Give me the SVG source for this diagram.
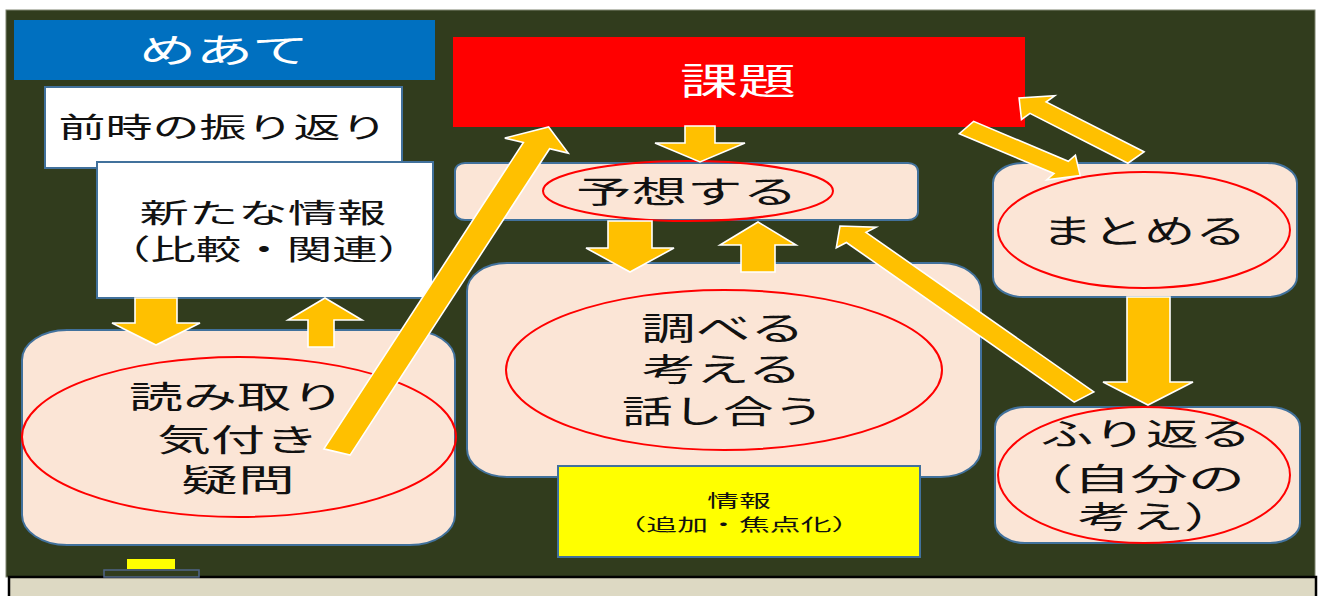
<svg xmlns="http://www.w3.org/2000/svg" width="1319" height="596" viewBox="0 0 1319 596">
<style>
text{font-family:"Noto Sans CJK JP","Noto Sans",sans-serif;text-anchor:middle;}
.dk{fill:#111;}
.wt{fill:#fff;}
.card{fill:#fbe5d6;stroke:#41719c;stroke-width:2;}
.wbox{fill:#fff;stroke:#41719c;stroke-width:2;}
.ring{fill:none;stroke:#ff0000;stroke-width:2;}
.arr{fill:#ffc000;stroke:#fff;stroke-width:1.6;stroke-linejoin:miter;}
</style>
<rect x="0" y="0" width="1319" height="596" fill="#fff"/>
<rect x="6" y="10" width="1309" height="567" fill="#313c1d" stroke="#7f8470" stroke-width="1"/>
<rect x="9" y="577" width="1307" height="30" fill="#ddd9c3" stroke="#000" stroke-width="2.5"/>
<g id="holder">
<rect x="127" y="559" width="48" height="10" fill="#ffff00"/>
<rect x="104" y="570" width="95" height="7" fill="#313c1d" stroke="#4f6488" stroke-width="1.5"/>
</g>
<g id="meate">
<rect x="14" y="20" width="421" height="60" fill="#0070c0"/>
<text class="wt" x="224" y="63" font-size="34" textLength="170" lengthAdjust="spacingAndGlyphs">めあて</text>
</g>
<g id="zenji">
<rect class="wbox" x="45" y="87" width="357" height="81"/>
<text class="dk" x="223" y="138" font-size="28" textLength="329" lengthAdjust="spacingAndGlyphs">前時の振り返り</text>
</g>
<g id="aratana">
<rect class="wbox" x="97" y="162" width="336" height="136"/>
<text class="dk" x="263" y="223" font-size="27" textLength="247" lengthAdjust="spacingAndGlyphs">新たな情報</text>
<text class="dk" x="264" y="260" font-size="28" textLength="318" lengthAdjust="spacingAndGlyphs">（比較・関連）</text>
</g>
<g id="kadai">
<rect x="453" y="37" width="572" height="90" fill="#ff0000"/>
<text class="wt" x="738" y="95" font-size="37" textLength="116" lengthAdjust="spacingAndGlyphs">課題</text>
</g>
<g id="yosou">
<rect class="card" x="455" y="163" width="463" height="57" rx="10" ry="8"/>
<ellipse class="ring" cx="688" cy="191" rx="145" ry="30"/>
<text class="dk" x="687" y="203" font-size="31" textLength="222" lengthAdjust="spacingAndGlyphs">予想する</text>
</g>
<g id="shiraberu">
<rect class="card" x="467" y="263" width="514" height="214" rx="40" ry="28"/>
<ellipse class="ring" cx="724" cy="370" rx="218" ry="80"/>
<text class="dk" x="723" y="340" font-size="32" textLength="164" lengthAdjust="spacingAndGlyphs">調べる</text>
<text class="dk" x="722" y="381" font-size="32" textLength="160" lengthAdjust="spacingAndGlyphs">考える</text>
<text class="dk" x="723" y="423" font-size="32" textLength="202" lengthAdjust="spacingAndGlyphs">話し合う</text>
</g>
<g id="jouhou">
<rect x="558" y="466" width="362" height="91" fill="#ffff00" stroke="#41719c" stroke-width="2"/>
<text class="dk" x="739" y="507" font-size="17" textLength="64" lengthAdjust="spacingAndGlyphs">情報</text>
<text class="dk" x="739" y="531" font-size="17" textLength="247" lengthAdjust="spacingAndGlyphs">（追加・焦点化）</text>
</g>
<g id="yomitori">
<rect class="card" x="22" y="330" width="433" height="215" rx="45" ry="30"/>
<ellipse class="ring" cx="239" cy="437" rx="217" ry="80"/>
<text class="dk" x="237" y="408" font-size="31" textLength="216" lengthAdjust="spacingAndGlyphs">読み取り</text>
<text class="dk" x="238" y="451" font-size="31" textLength="162" lengthAdjust="spacingAndGlyphs">気付き</text>
<text class="dk" x="238" y="491" font-size="31" textLength="114" lengthAdjust="spacingAndGlyphs">疑問</text>
</g>
<g id="matomeru">
<rect class="card" x="993" y="163" width="304" height="134" rx="30" ry="20"/>
<ellipse class="ring" cx="1144" cy="230" rx="146" ry="58"/>
<text class="dk" x="1144" y="243" font-size="33" textLength="205" lengthAdjust="spacingAndGlyphs">まとめる</text>
</g>
<g id="furikaeru">
<rect class="card" x="995" y="407" width="305" height="136" rx="30" ry="20"/>
<ellipse class="ring" cx="1144" cy="475" rx="146" ry="68"/>
<text class="dk" x="1146" y="445" font-size="31" textLength="211" lengthAdjust="spacingAndGlyphs">ふり返る</text>
<text class="dk" x="1016" y="490" font-size="31" textLength="229" lengthAdjust="spacingAndGlyphs" style="text-anchor:start">（自分の</text>
<text class="dk" x="1078" y="528" font-size="31" textLength="159" lengthAdjust="spacingAndGlyphs" style="text-anchor:start">考え）</text>
</g>
<g id="connectors">
<polygon class="arr" points="685,126 715,126 715,143 745,143 700,162 655,143 685,143"/>
<polygon class="arr" points="608,221 652,221 652,248 674,248 630,272 586,248 608,248"/>
<polygon class="arr" points="741,272 775,272 775,245 796,245 758,222 720,245 741,245"/>
<polygon class="arr" points="135,298 177,298 177,323 200,323 156,345 112,323 135,323"/>
<polygon class="arr" points="308,347 334,347 334,320 362,320 325,298 288,320 308,320"/>
<polygon class="arr" points="1127,297 1170,297 1170,382 1193,382 1148,405 1103,382 1127,382"/>
<polygon class="arr" points="350.1,455.1 549.6,148.7 568.2,153.1 548.6,127 504.8,138.1 523.4,142.5 323.9,448.9"/>
<polygon class="arr" points="1093.8,391.9 866.0,232.3 876.1,227.1 840.0,226 836.3,247.7 846.4,242.5 1074.2,402.1"/>
<polygon class="arr" points="959.3,133.65 1054.0,173.6 1046.8,179.75 1080.2,175.5 1075.4,155.2 1068.3,161.3 973.6,121.35"/>
<polygon class="arr" points="1144.0,151.8 1046.1,102.0 1054.7,95.8 1019.1,98 1021.5,119.5 1030.0,113.4 1127.9,163.2"/>
</g>
</svg>
